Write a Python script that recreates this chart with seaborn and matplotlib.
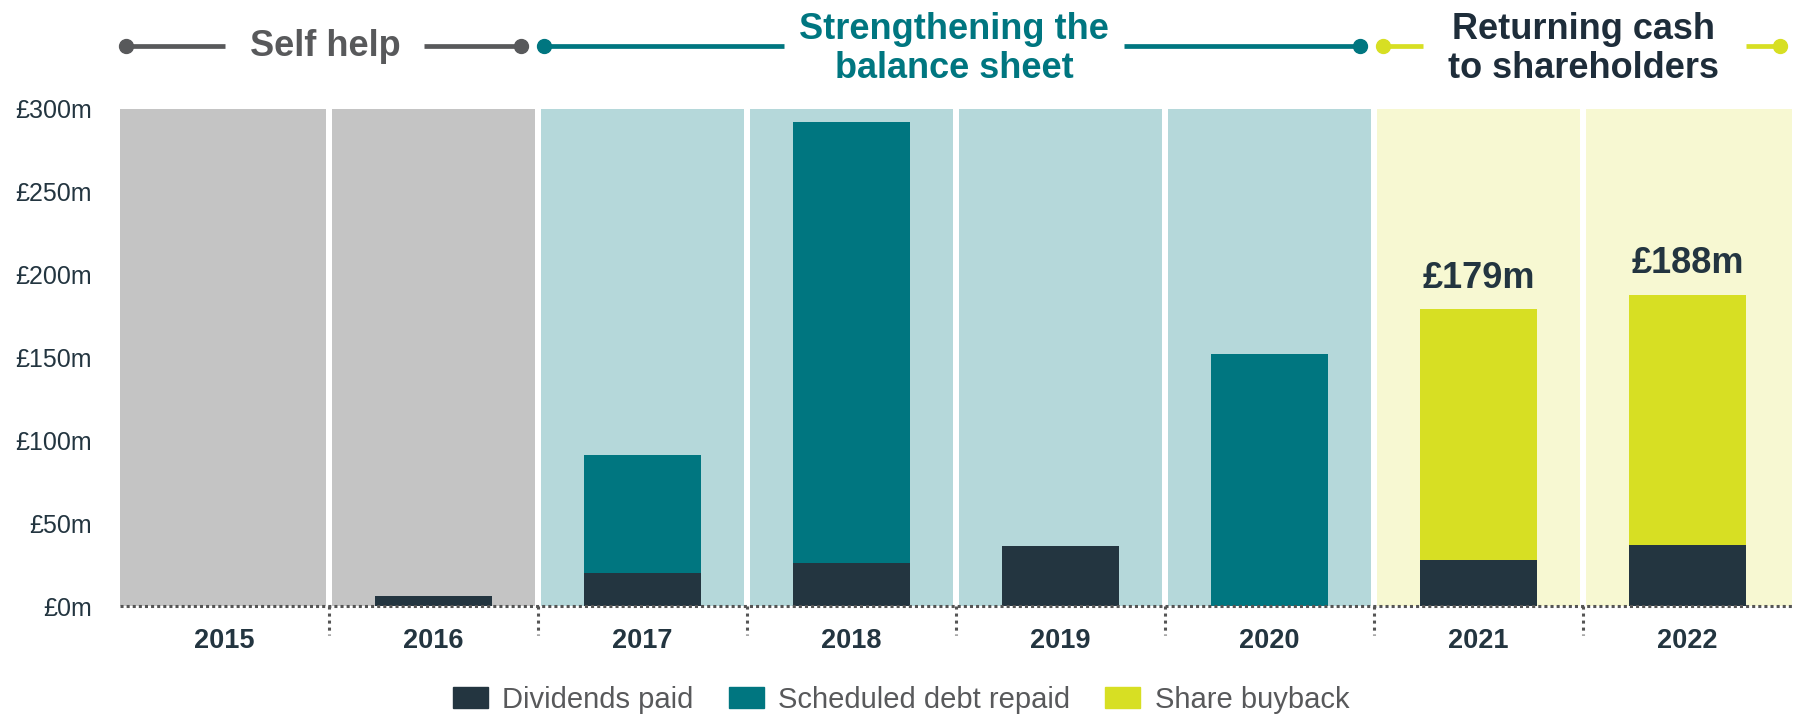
import matplotlib
matplotlib.use("Agg")
import matplotlib.pyplot as plt
import seaborn as sns
import pandas as pd
from matplotlib.lines import Line2D
from matplotlib.patches import Patch

# ---- data ----
years = ["2015", "2016", "2017", "2018", "2019", "2020", "2021", "2022"]
dividends = [0, 6, 20, 26, 36, 0, 28, 37]
debt_repaid = [0, 0, 71, 266, 0, 152, 0, 0]
buyback = [0, 0, 0, 0, 0, 0, 151, 151]
total_labels = ["", "", "", "", "", "", "£179m", "£188m"]
y_ticks = [0, 50, 100, 150, 200, 250, 300]
y_tick_labels = ["£0m", "£50m", "£100m", "£150m", "£200m", "£250m", "£300m"]
phases = ["gray", "gray", "teal", "teal", "teal", "teal", "yellow", "yellow"]

C_DARK = "#233540"
C_TEAL = "#007680"
C_YEL = "#d7df23"
C_GRAYTXT = "#58595b"
BG = {"gray": "#c4c4c4", "teal": "#b5d8da", "yellow": "#f7f8d2"}

sns.set_theme(style="white")
plt.rcParams["font.family"] = ["Liberation Sans", "DejaVu Sans"]

df = pd.DataFrame({"year": years, "div": dividends, "debt": debt_repaid, "buy": buyback})
df["lvl2"] = df["div"] + df["debt"]
df["lvl3"] = df["lvl2"] + df["buy"]

W, H = 1795, 717
fig = plt.figure(figsize=(W / 100, H / 100), dpi=100)
ax = fig.add_axes([120 / W, 1 - 606 / H, (1792 - 120) / W, (606 - 109) / H])

# background columns
gap = 0.015
for i, ph in enumerate(phases):
    ax.axvspan(i - 0.5 + (gap if i > 0 else 0), i + 0.5 - (gap if i < len(phases) - 1 else 0),
               color=BG[ph], zorder=0, lw=0)

# stacked bars by overlay
sns.barplot(data=df, x="year", y="lvl3", color=C_YEL, width=0.56, ax=ax,
            saturation=1, zorder=2, linewidth=0)
sns.barplot(data=df, x="year", y="lvl2", color=C_TEAL, width=0.56, ax=ax,
            saturation=1, zorder=3, linewidth=0)
sns.barplot(data=df, x="year", y="div", color=C_DARK, width=0.56, ax=ax,
            saturation=1, zorder=4, linewidth=0)

ax.set_xlim(-0.5, len(years) - 0.5)
ax.set_ylim(0, 300)
ax.set_xlabel("")
ax.set_ylabel("")
for s in ax.spines.values():
    s.set_visible(False)

ax.set_yticks(y_ticks)
ax.set_yticklabels(y_tick_labels)
ax.tick_params(axis="y", length=0, pad=20, labelsize=18, labelcolor=C_DARK)
ax.tick_params(axis="x", length=0, pad=15.5, labelsize=19.5, labelcolor=C_DARK)
for t in ax.get_xticklabels():
    t.set_fontweight("bold")

# dotted baseline and separators
ax.plot([-0.5, len(years) - 0.5], [0, 0], color="#555555", lw=2.2,
        ls=(0, (1, 1)), zorder=5, clip_on=False)
for i in range(len(years) - 1):
    ax.plot([i + 0.5, i + 0.5], [0, -17.5], color="#555555", lw=2.2,
            ls=(0, (1, 1.3)), zorder=5, clip_on=False)

# total labels
for i, lab in enumerate(total_labels):
    if lab:
        ax.annotate(lab, (i, df["lvl3"][i]), xytext=(0, 22), textcoords="offset points",
                    ha="center", va="center", fontsize=26, fontweight="bold", color=C_DARK)

# header phases (figure pixel coords)
def fx(px):
    return px / W

def fy(py):
    return 1 - py / H

def seg(x0, x1, y, col, dot0, dot1):
    fig.add_artist(Line2D([fx(x0), fx(x1)], [fy(y), fy(y)], color=col, lw=3.4,
                          transform=fig.transFigure, solid_capstyle="butt"))
    for d, xx in ((dot0, x0), (dot1, x1)):
        if d:
            fig.add_artist(Line2D([fx(xx)], [fy(y)], marker="o", markersize=10,
                                  color=col, transform=fig.transFigure))

hy = 46
seg(126, 225, hy, C_GRAYTXT, True, False)
seg(424, 521, hy, C_GRAYTXT, False, True)
fig.text(fx(325), fy(hy), "Self help", ha="center", va="center", fontsize=26,
         fontweight="bold", color=C_GRAYTXT)

seg(544, 784, hy, C_TEAL, True, False)
seg(1124, 1360, hy, C_TEAL, False, True)
fig.text(fx(954), fy(hy + 3), "Strengthening the\nbalance sheet", ha="center", va="center",
         fontsize=26, fontweight="bold", color=C_TEAL, linespacing=1.17)

seg(1383, 1423, hy, C_YEL, True, False)
seg(1746, 1780, hy, C_YEL, False, True)
fig.text(fx(1583), fy(hy + 3), "Returning cash\nto shareholders", ha="center", va="center",
         fontsize=26, fontweight="bold", color="#1e2d3a", linespacing=1.17)

# legend
handles = [Patch(color=C_DARK, label="Dividends paid"),
           Patch(color=C_TEAL, label="Scheduled debt repaid"),
           Patch(color=C_YEL, label="Share buyback")]
leg = fig.legend(handles=handles, loc="center", bbox_to_anchor=(fx(901), fy(700)),
                 ncol=3, frameon=False, fontsize=21, handlelength=1.2, handleheight=0.72,
                 handletextpad=0.5, columnspacing=1.2)
for t in leg.get_texts():
    t.set_color(C_GRAYTXT)

fig.savefig("out.png", dpi=100)
